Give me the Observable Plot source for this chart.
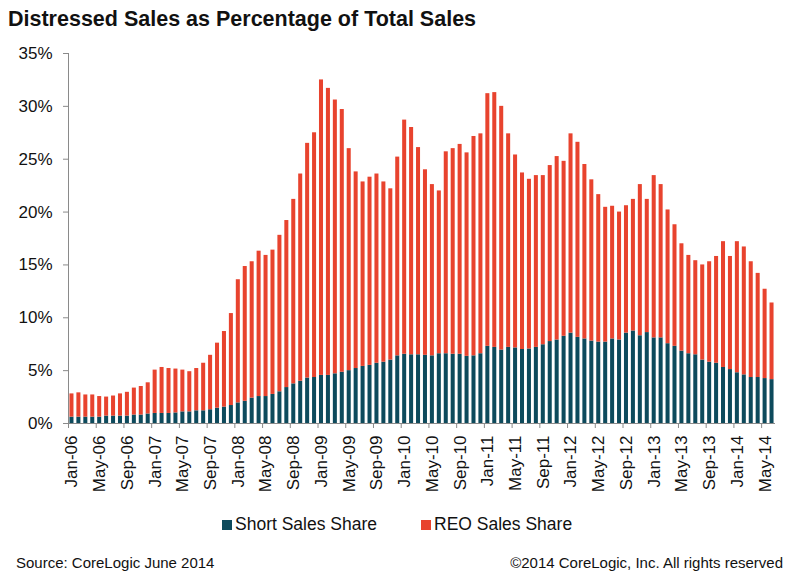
<!DOCTYPE html>
<html>
<head>
<meta charset="utf-8">
<script src="https://cdn.jsdelivr.net/npm/d3@7"></script>
<script src="https://cdn.jsdelivr.net/npm/@observablehq/plot@0.6"></script>
<style>
  html, body { margin: 0; padding: 0; background: #fff; }
  #wrap { position: relative; width: 799px; height: 578px; font-family: "Liberation Sans", Arial, sans-serif; color: #111; overflow: hidden; }
  #title { position: absolute; left: 8px; top: 7px; font-size: 21.5px; font-weight: bold; white-space: nowrap; }
  #chart { position: absolute; left: 0; top: 40px; }
  .leg { position: absolute; top: 514px; font-size: 17.5px; white-space: nowrap; display: flex; align-items: center; }
  .sw { width: 10px; height: 10px; display: inline-block; margin-right: 3px; }
  .foot { position: absolute; top: 554px; font-size: 15px; white-space: nowrap; color: #111; }
</style>
</head>
<body>
<div id="wrap">
  <div id="title">Distressed Sales as Percentage of Total Sales</div>
  <div id="chart"></div>
  <div class="leg" id="leg0" style="left:222px"></div>
  <div class="leg" id="leg1" style="left:421px"></div>
  <div class="foot" style="left:16px">Source: CoreLogic June 2014</div>
  <div class="foot" style="right:16px">©2014 CoreLogic, Inc. All rights reserved</div>
</div>
<script>
const months = [
  "Jan-06","Feb-06","Mar-06","Apr-06","May-06","Jun-06","Jul-06","Aug-06","Sep-06","Oct-06","Nov-06","Dec-06",
  "Jan-07","Feb-07","Mar-07","Apr-07","May-07","Jun-07","Jul-07","Aug-07","Sep-07","Oct-07","Nov-07","Dec-07",
  "Jan-08","Feb-08","Mar-08","Apr-08","May-08","Jun-08","Jul-08","Aug-08","Sep-08","Oct-08","Nov-08","Dec-08",
  "Jan-09","Feb-09","Mar-09","Apr-09","May-09","Jun-09","Jul-09","Aug-09","Sep-09","Oct-09","Nov-09","Dec-09",
  "Jan-10","Feb-10","Mar-10","Apr-10","May-10","Jun-10","Jul-10","Aug-10","Sep-10","Oct-10","Nov-10","Dec-10",
  "Jan-11","Feb-11","Mar-11","Apr-11","May-11","Jun-11","Jul-11","Aug-11","Sep-11","Oct-11","Nov-11","Dec-11",
  "Jan-12","Feb-12","Mar-12","Apr-12","May-12","Jun-12","Jul-12","Aug-12","Sep-12","Oct-12","Nov-12","Dec-12",
  "Jan-13","Feb-13","Mar-13","Apr-13","May-13","Jun-13","Jul-13","Aug-13","Sep-13","Oct-13","Nov-13","Dec-13",
  "Jan-14","Feb-14","Mar-14","Apr-14","May-14","Jun-14"
];

const shortSales = [
  0.6,0.6,0.6,0.6,0.6,0.7,0.7,0.7,0.7,0.8,0.8,0.9,
  0.95,0.95,0.95,1.0,1.1,1.1,1.2,1.2,1.3,1.45,1.55,1.7,
  1.95,2.1,2.4,2.55,2.55,2.75,3.0,3.4,3.75,4.0,4.3,4.35,
  4.55,4.55,4.7,4.85,5.0,5.2,5.4,5.5,5.7,5.8,6.0,6.4,
  6.55,6.5,6.5,6.45,6.4,6.6,6.6,6.55,6.55,6.35,6.4,6.6,
  7.3,7.2,6.95,7.2,7.15,7.0,7.05,7.2,7.45,7.75,7.9,8.25,
  8.55,8.15,8.0,7.8,7.7,7.7,8.0,7.9,8.55,8.75,8.3,8.6,
  8.1,8.1,7.55,7.3,6.85,6.6,6.5,6.0,5.8,5.7,5.3,5.1,
  4.8,4.6,4.35,4.35,4.25,4.15
];

const reoSales = [
  2.2,2.3,2.1,2.1,1.95,1.8,1.9,2.1,2.25,2.55,2.7,2.95,
  4.1,4.35,4.25,4.15,3.95,3.8,4.0,4.5,5.15,6.15,7.15,8.7,
  11.65,12.75,12.9,13.75,13.35,13.65,14.8,15.8,17.45,19.6,22.2,23.15,
  27.95,27.15,25.9,24.85,21.0,18.6,17.45,17.8,17.9,17.05,16.2,18.8,
  22.15,21.5,19.6,17.55,16.2,15.4,19.1,19.45,19.85,19.25,20.75,20.8,
  23.9,24.1,23.05,20.2,18.25,16.7,16.05,16.25,16.0,16.65,17.35,16.55,
  18.85,18.45,16.5,15.25,13.95,12.75,12.55,12.1,12.05,12.45,14.3,12.6,
  15.35,14.5,12.65,11.5,10.15,9.3,8.9,9.0,9.5,10.1,11.9,10.7,
  12.4,12.1,10.95,9.85,8.45,7.25
];

const seriesNames = ["Short Sales Share", "REO Sales Share"];
const seriesColors = ["#0d4a5c", "#e8432e"];
const yTicks = [0, 5, 10, 15, 20, 25, 30, 35];
const xLabelMonths = ["Jan","May","Sep"];

// long table for stacking
const table = [];
months.forEach((m, i) => {
  table.push({month: m, series: seriesNames[0], value: shortSales[i]});
  table.push({month: m, series: seriesNames[1], value: reoSales[i]});
});
const labelTicks = months.filter(m => xLabelMonths.includes(m.slice(0, 3)));

const W = 799, H = 465, mL = 68, mR = 24, mT = 13, mB = 82;
const step = (W - mL - mR) / months.length;
const gray = "#8a8a8a";

const chart = Plot.plot({
  width: W,
  height: H,
  marginTop: mT,
  marginLeft: mL,
  marginRight: mR,
  marginBottom: mB,
  style: {fontFamily: "'Liberation Sans', Arial, sans-serif", background: "#fff", overflow: "visible"},
  x: {type: "band", domain: months, paddingInner: 0.42, paddingOuter: 0.21, label: null},
  y: {domain: [0, 35], label: null},
  color: {domain: seriesNames, range: seriesColors},
  marks: [
    Plot.barY(table, {x: "month", y: "value", fill: "series", order: seriesNames}),
    Plot.ruleX([months[0]], {dx: -step / 2, stroke: gray, strokeWidth: 1}),
    Plot.ruleY([0], {stroke: gray, strokeWidth: 1.2}),
    Plot.axisY({ticks: yTicks, tickFormat: d => d + "%", tickSize: 5, tickPadding: 11, stroke: gray, fill: "#111", fontSize: 17}),
    Plot.axisX({ticks: labelTicks, tickSize: 5, text: null, dx: -step / 2, stroke: gray}),
    Plot.axisX({ticks: labelTicks, tickSize: 0, tickRotate: -90, tickPadding: 12, fill: "#111", fontSize: 17})
  ]
});
document.getElementById("chart").appendChild(chart);

seriesNames.forEach((name, i) => {
  const el = document.getElementById("leg" + i);
  const sw = document.createElement("span");
  sw.className = "sw";
  sw.style.background = seriesColors[i];
  el.appendChild(sw);
  el.appendChild(document.createTextNode(name));
});
</script>
</body>
</html>
